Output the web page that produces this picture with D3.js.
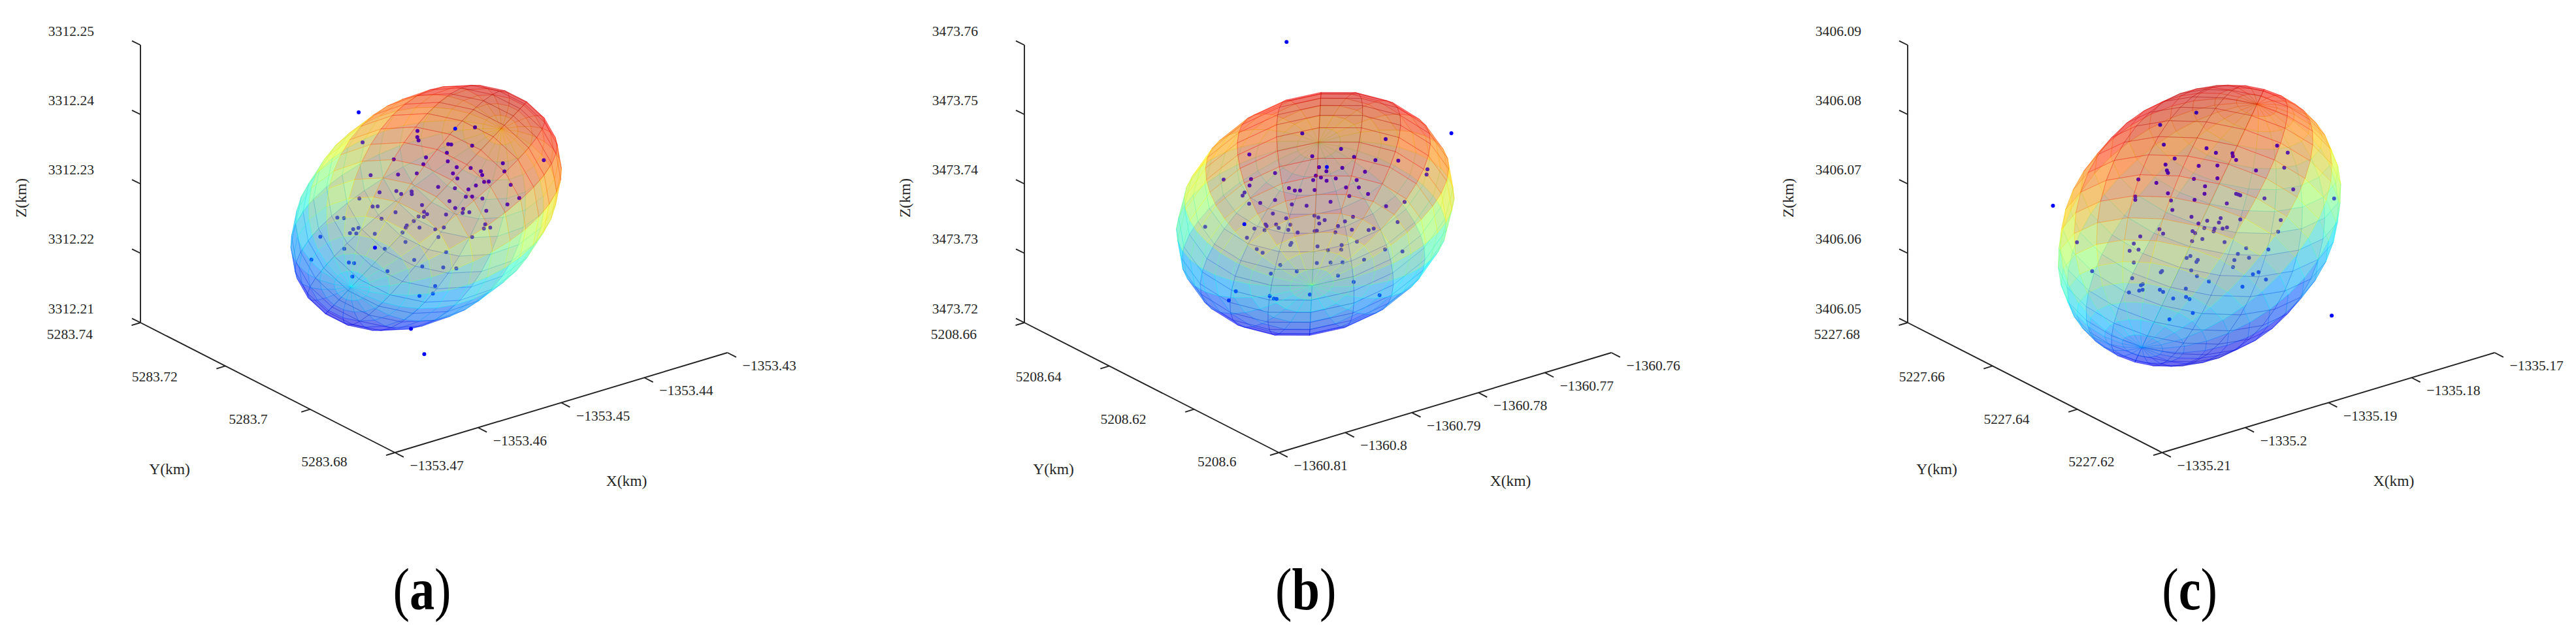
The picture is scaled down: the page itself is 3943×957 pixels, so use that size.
<!DOCTYPE html>
<html><head><meta charset="utf-8">
<script src="https://cdn.jsdelivr.net/npm/d3@7/dist/d3.min.js"></script>
<style>html,body{margin:0;padding:0;background:#fff}svg{display:block}text{font-family:"Liberation Serif",serif;fill:#262626}</style>
</head><body><svg id="c" width="3943" height="957"></svg>
<script>
// ---- tick values (km)
const xTicksA=[-1353.47,-1353.46,-1353.45,-1353.44,-1353.43];
const yTicksA=[5283.68,5283.7,5283.72,5283.74];
const zTicksA=[3312.21,3312.22,3312.23,3312.24,3312.25];
const xTicksB=[-1360.81,-1360.8,-1360.79,-1360.78,-1360.77,-1360.76];
const yTicksB=[5208.6,5208.62,5208.64,5208.66];
const zTicksB=[3473.72,3473.73,3473.74,3473.75,3473.76];
const xTicksC=[-1335.21,-1335.2,-1335.19,-1335.18,-1335.17];
const yTicksC=[5227.62,5227.64,5227.66,5227.68];
const zTicksC=[3406.05,3406.06,3406.07,3406.08,3406.09];
// ---- fitted error ellipsoids: centre and semi-axis vectors, metres from the low end of each axis
const centreA=[19.06,30,19.04];
const poleAxisA=[12.36,6.51,4.89], axis2A=[0.56,-24.10,1.91], axis3A=[-0.12,-8.71,15.30];
const centreB=[24.61,30,17.95];
const poleAxisB=[12.37,18.58,0.88], axis2B=[11.28,-13.80,7.51], axis3B=[-4.80,1.58,13.73];
const centreC=[19.8,30,16.2];
const poleAxisC=[13.47,12.77,8.71], axis2C=[12.03,-6.21,-7.58], axis3C=[-2.40,-11.53,13.33];
// ---- scatter: metres read against the X axis (across) and the Z axis (up)
const pointsAx=[-4.36,-3.89,2.71,2.69,2.84,7.25,9.63,6.41,6.77,9.29,6.25,-0.14,3.74,3.42,6.36,-2.92,0.38,2.63,7.43,9.11,10.34,10.5,6.98,7.51,12.98,13.17,17.91,10.73,11.28,9.74,13.93,5.2,7.22,8.84,-1.85,0.17,0.75,2.01,2.03,-4.28,8.53,9.29,10.52,14.95,13.53,6.56,3.26,-2.68,-2.08,7.25,8.22,8.95,8.14,10.99,0.07,3.5,3.87,2.84,3.47,6.15,-6.93,-6.12,-1.61,2.27,1.43,1.3,2.95,4.86,5.88,10.86,10.7,11.46,-5.02,-4.39,-5.41,-4.65,-2.42,0.91,5.23,9.29,-8.97,1.27,-6.09,-2.4,-1.22,6.15,-10.05,-5.54,-4.91,2.32,3.29,5.81,7.38,-0.9,-5.12,4.84,2.95,4.57,1.93,3.53];
const pointsAz=[30.26,25.94,27.57,26.69,26.22,27.91,28.1,25.68,25.62,25.46,24.43,23.49,23.77,22.77,23.21,21.2,21.29,21.45,22.36,22.23,21.76,21.23,21.45,20.73,22.92,21.73,23.36,20.23,20.29,19.72,19.82,19.5,19.32,19.16,18.72,18.91,18.5,18.85,18.47,17.84,18.09,18.12,17.84,17.9,16.99,17.46,16.9,16.68,16.71,16.46,16.34,15.87,15.77,16.08,15.87,15.93,15.58,15.24,15.21,15.52,15.08,15.02,14.92,14.58,13.95,13.64,13.64,13.39,13.67,14.11,13.51,13.64,13.42,13.61,12.85,12.79,12.76,12.95,12.29,12.29,12.32,11.57,10.59,10.75,10.59,10.12,9.03,8.62,8.52,8.99,8.05,7.9,7.77,7.36,6.58,5.23,3.82,4.13,-0.95,-4.59];
const pointsBx=[1.16,25.94,3.52,16.06,9.35,-4.44,5.02,11.31,14.52,17.96,6.04,7.22,9.54,7.15,-0.57,12.95,22.34,22.21,5.55,6.33,5.16,7.18,8.56,-8.3,-4.18,11.7,-4.41,1.52,2.4,3.19,5.38,10.1,12.03,-5.16,-5.45,13.41,10.59,-0.57,-4.47,-2.8,7.77,18.91,1.95,4.17,16.12,-0.9,5.35,11.15,5.94,1.1,6.89,9.94,-11.08,-5.19,6.07,-2.01,-1.85,-0.41,1.72,8.89,17.86,-0.02,-3.68,-2.15,1.42,2.83,5.38,5.71,10.98,8.49,13.5,14.26,-4.8,1.88,1.72,11.74,9.44,5.81,-3.32,-2.44,7.38,9.38,15.96,18.58,0.21,5.71,7.77,9.58,12.82,-1.2,2.7,8.89,11.25,-6.47,-7.52,-1.36,-0.74,-0.35,4.66,15.14];
const pointsBz=[40.39,27.25,27.22,26.4,24.99,24.2,23.92,23.83,23.36,23.29,22.35,22.38,22.26,21.76,21.51,21.69,22.04,21.29,21.13,20.88,20.5,20.41,20.72,20.57,20.63,20.5,19.72,19.34,19,19,19.06,19.44,19.44,18.71,18.27,18.49,18.18,17.62,17.08,17.21,17.37,17.33,16.99,16.8,16.74,15.67,15.36,15.2,15.11,14.98,14.73,14.54,13.76,14.13,14.23,14.1,13.88,14.1,14.07,13.88,14.45,13.6,13.51,13.26,13.32,12.94,13.13,13.19,13.35,12.97,13.29,13.51,12.19,11.44,11.15,11.62,11.12,10.93,10.53,10.03,10.37,10.46,10.5,10.21,8.27,8.55,8.61,8.64,9.02,7.01,7.33,6.73,5.82,4.47,3.15,3.78,3.41,3.37,4,3.91];
const pointsCx=[4.11,-0.24,0.2,13.83,5.34,6.47,8.46,15.11,8.51,8.9,1.51,14.69,0.41,4.4,6.65,11.29,0.57,0.7,-2.86,-0.69,3.82,6.65,5.16,15.77,0.7,5.1,8.9,9.16,9.4,-3.23,-3.23,12.31,1.07,3.9,7.78,1.23,-13.13,20.69,3.53,7.04,9.4,14.27,5.42,6.83,4.37,-0.32,5.08,6.31,6.2,7.28,7.8,3.66,3.98,0.12,13.96,-2.63,4.84,3.61,7.51,-10.25,-3.41,10.11,-3.91,-2.84,12.78,9.11,3.4,2.95,10.45,8.69,4.29,4.13,-3.41,8.53,3.5,-8.42,-0.01,-0.16,11.6,10.92,4.19,5.63,-3.6,12.49,-2.34,-2.55,9.66,2.85,-2.34,-2.76,-3.99,-0.27,0.12,1.33,2.88,3.29,3.69,0.88,20.4];
const pointsCz=[30.22,28.44,25.61,25.46,25.08,24.42,24.36,24.45,23.92,23.39,23.61,22.29,22.73,22.54,22.6,21.88,21.88,21.54,20.59,20.09,20.66,20.75,19.59,19.15,18.59,18.52,18.52,18.43,18.3,18.12,17.65,17.87,17.55,17.65,17.14,16.2,16.8,17.83,15.2,15.01,14.82,14.73,14.63,14.38,14.23,13.41,13.57,13.5,13.1,13.5,13.66,13.13,12.85,12.78,13.07,12.38,12,11.69,11.56,11.53,11.34,10.68,10.3,10.46,10.49,9.87,9.55,9.27,9.3,8.96,8.99,8.7,8.61,7.95,7.48,7.36,7.39,7.2,7.23,6.92,6.67,5.88,6.35,6.16,5.5,5.35,5.13,4.85,4.69,4.56,4.31,4.69,4.38,3.44,3.65,3.34,1.33,0.42,0.96];
// indices of points that lie in front of the surface
const frontA=[5,83,98], frontB=[11,53], frontC=[];

const panels=[
 {cap:"a",ox:0,capX:646,xT:xTicksA,yT:yTicksA,zT:zTicksA,c:centreA,p:[poleAxisA,axis2A,axis3A],px:pointsAx,pz:pointsAz,front:frontA},
 {cap:"b",ox:1353,capX:1998.7,xT:xTicksB,yT:yTicksB,zT:zTicksB,c:centreB,p:[poleAxisB,axis2B,axis3B],px:pointsBx,pz:pointsBz,front:frontB},
 {cap:"c",ox:2705,capX:3351.6,xT:xTicksC,yT:yTicksC,zT:zTicksC,c:centreC,p:[poleAxisC,axis2C,axis3C],px:pointsCx,pz:pointsCz,front:frontC}
];
const svg=d3.select("#c");
const jet=d3.scaleLinear().domain([0,.125,.375,.625,.875,1])
  .range(["#0000a0","#0000ff","#00ffff","#ffff00","#ff0000","#a00000"]).clamp(true);
const INK="#222222", FS=21.6, LF=23.5;
// view: default MATLAB 3-D view, box edge vectors on the page and towards the viewer
const VX=[509,-153,-338.6], VY=[-389.5,-199,-441], VZ=[0,-425,313];
const CX=604.5, CY=693;

panels.forEach(P=>{
  const g=svg.append("g");
  const ox=P.ox+CX;
  const xRange=Math.abs(P.xT[P.xT.length-1]-P.xT[0])*1000;
  const xN=d3.scaleLinear().domain([0,xRange]).range([0,1]);
  const yN=d3.scaleLinear().domain([0,60]).range([0,1]);
  const zN=d3.scaleLinear().domain([0,40]).range([0,1]);
  const xK=d3.scaleLinear().domain(d3.extent(P.xT)).range([0,1]);
  const yK=d3.scaleLinear().domain(d3.extent(P.yT)).range([0,1]);
  const zK=d3.scaleLinear().domain(d3.extent(P.zT)).range([0,1]);
  const proj=(a,b,c)=>({x:ox+a*VX[0]+b*VY[0]+c*VZ[0],y:CY+a*VX[1]+b*VY[1]+c*VZ[1],d:a*VX[2]+b*VY[2]+c*VZ[2]});
  const line=(a,b,w)=>g.append("line").attr("x1",a[0]).attr("y1",a[1]).attr("x2",b[0]).attr("y2",b[1]).attr("stroke",INK).attr("stroke-width",w||1.9);
  const fmt=v=>String(v).replace("-","\u2212");
  // axes
  const O=proj(0,0,0),XE=proj(1,0,0),YE=proj(0,1,0),ZE=proj(0,1,1);
  line([O.x,O.y],[XE.x,XE.y]); line([O.x,O.y],[YE.x,YE.y]); line([YE.x,YE.y],[ZE.x,ZE.y]);
  P.xT.forEach(v=>{const t=proj(xK(v),0,0);line([t.x,t.y],[t.x+13.4,t.y+6.9]);
    g.append("text").attr("x",t.x+23).attr("y",t.y+27).attr("font-size",FS).text(fmt(v));});
  P.yT.forEach(v=>{const n=yK(v),t=proj(0,n,0);line([t.x,t.y],[t.x-13.5,t.y+4.2]);
    const s=fmt(v);
    g.append("text").attr("x",t.x-(s.length<7?65:73)).attr("y",t.y+21.3+3.6*n).attr("text-anchor","end").attr("font-size",FS).text(s);});
  P.zT.forEach(v=>{const t=proj(0,1,zK(v));line([t.x,t.y],[t.x-13,t.y-6.3]);
    g.append("text").attr("x",t.x-71).attr("y",t.y-14.3).attr("text-anchor","end").attr("font-size",FS).text(fmt(v));});
  // axis titles
  g.append("text").attr("x",P.ox+959).attr("y",744).attr("text-anchor","middle").attr("font-size",LF).text("X(km)");
  g.append("text").attr("x",P.ox+259.5).attr("y",725.7).attr("text-anchor","middle").attr("font-size",LF).text("Y(km)");
  g.append("text").attr("transform",`translate(${P.ox+40},303) rotate(-90)`).attr("text-anchor","middle").attr("font-size",LF).text("Z(km)");
  // ellipsoid mesh
  const [p1,p2,p3]=P.p, n=20;
  const vert=(i,j)=>{ // i latitude band, j longitude
    const lat=(-n+2*i)/n*Math.PI/2, lon=(-n+2*j)/n*Math.PI;
    const cl=Math.cos(lat),sl=Math.sin(lat),ct=Math.cos(lon),st=Math.sin(lon);
    const m=k=>P.c[k]+sl*p1[k]+cl*(ct*p2[k]+st*p3[k]);
    const X=m(0),Y=m(1),Z=m(2);
    const s=proj(xN(X),yN(Y),zN(Z));
    return {x:s.x,y:s.y,d:s.d,Z};
  };
  const centre=proj(xN(P.c[0]),yN(P.c[1]),zN(P.c[2]));
  const zh=Math.hypot(p1[2],p2[2],p3[2]);
  const col=z=>jet((z-(P.c[2]-zh))/(2*zh));
  const faces=[];
  for(let i=0;i<n;i++)for(let j=0;j<n;j++){
    const v=[vert(i,j),vert(i,j+1),vert(i+1,j+1),vert(i+1,j)];
    const mx=d3.mean(v,q=>q.x),my=d3.mean(v,q=>q.y),md=d3.mean(v,q=>q.d),mz=d3.mean(v,q=>q.Z);
    const a=[v[2].x-v[0].x,v[2].y-v[0].y,v[2].d-v[0].d],b=[v[3].x-v[1].x,v[3].y-v[1].y,v[3].d-v[1].d];
    let nn=[a[1]*b[2]-a[2]*b[1],a[2]*b[0]-a[0]*b[2],a[0]*b[1]-a[1]*b[0]];
    const out=nn[0]*(mx-centre.x)+nn[1]*(my-centre.y)+nn[2]*(md-centre.d);
    if(out<0)nn=nn.map(q=>-q);
    faces.push({pts:v.map(q=>[q.x,q.y]),d:md,z:mz,front:nn[2]>0});
  }
  const lineGen=d3.line().curve(d3.curveLinearClosed);
  const drawFaces=fs=>{g.append("g").selectAll("path").data(fs.sort((u,w)=>u.d-w.d)).join("path")
    .attr("d",f=>lineGen(f.pts)).attr("fill",f=>col(f.z)).attr("fill-opacity",.35)
    .attr("stroke",f=>col(f.z)).attr("stroke-opacity",.28).attr("stroke-width",1).attr("stroke-linejoin","round");};
  // scatter (readings on the two page-aligned scales)
  const xRead=d3.scaleLinear().domain([0,xRange]).range([ox,ox+VX[0]]);
  const zRead=d3.scaleLinear().domain([0,40]).range([493.5,68.5]);
  const pts=P.px.map((v,i)=>({x:v,z:P.pz[i],i}));
  const drawPts=ds=>{g.append("g").selectAll("circle").data(ds).join("circle")
    .attr("cx",d=>xRead(d.x)).attr("cy",d=>zRead(d.z)).attr("r",3).attr("fill","#0000ff");};
  drawFaces(faces.filter(f=>!f.front));
  drawPts(pts.filter(d=>!P.front.includes(d.i)));
  drawFaces(faces.filter(f=>f.front));
  drawPts(pts.filter(d=>P.front.includes(d.i)));
  // caption
  const t=g.append("text").attr("transform",`translate(${P.capX},933) scale(.85,1)`).attr("text-anchor","middle").attr("font-size",90).style("fill","#000");
  t.append("tspan").text("(");
  t.append("tspan").attr("font-weight","bold").text(P.cap);
  t.append("tspan").text(")");
});
</script></body></html>
